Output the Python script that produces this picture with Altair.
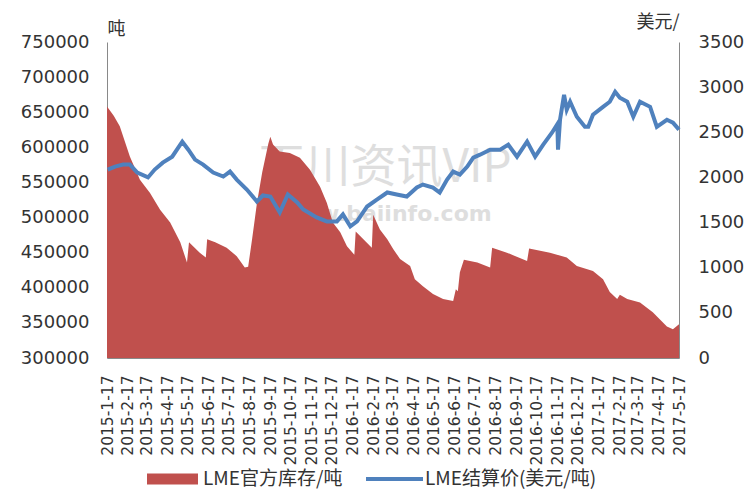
import altair as alt
import pandas as pd

# LME official inventory (tonnes) - left axis
inv_dates = [
    "2015-01-17", "2015-01-27", "2015-02-05", "2015-02-20", "2015-03-07", "2015-03-22",
    "2015-04-06", "2015-04-21", "2015-05-06", "2015-05-16", "2015-05-19", "2015-06-04",
    "2015-06-13", "2015-06-15", "2015-06-27", "2015-07-14", "2015-07-29", "2015-08-10",
    "2015-08-15", "2015-08-21", "2015-08-28", "2015-09-05", "2015-09-14", "2015-09-17",
    "2015-09-21", "2015-10-01", "2015-10-16", "2015-10-31", "2015-11-15", "2015-11-30",
    "2015-12-10", "2015-12-19", "2015-12-30", "2016-01-09", "2016-01-20", "2016-01-22",
    "2016-02-15", "2016-02-17", "2016-02-27", "2016-03-09", "2016-03-18", "2016-03-28",
    "2016-04-12", "2016-04-19", "2016-05-01", "2016-05-16", "2016-05-31", "2016-06-15",
    "2016-06-19", "2016-06-22", "2016-06-25", "2016-07-01", "2016-07-21", "2016-08-09",
    "2016-08-12", "2016-09-03", "2016-10-03", "2016-10-06", "2016-11-06", "2016-12-01",
    "2016-12-16", "2017-01-09", "2017-01-24", "2017-02-03", "2017-02-14", "2017-02-18",
    "2017-03-01", "2017-03-20", "2017-04-08", "2017-04-29", "2017-05-08", "2017-05-17",
]
inv_values = [
    658000, 645000, 630000, 587000, 554000, 535000,
    511000, 493000, 465000, 436000, 465000, 450000,
    443000, 469000, 465000, 457000, 445000, 429000,
    430000, 470000, 520000, 565000, 605000, 615000,
    604000, 594000, 592000, 585000, 568000, 544000,
    521000, 493000, 479000, 459000, 447000, 480000,
    457000, 504000, 483000, 469000, 455000, 441000,
    431000, 412000, 402000, 391000, 384000, 381000,
    398000, 395000, 422000, 440000, 436000, 429000,
    457000, 450000, 438000, 456000, 450000, 443000,
    431000, 424000, 412000, 394000, 384000, 390000,
    384000, 379000, 365000, 345000, 341000, 348000,
]

# LME settlement price (USD/t) - right axis
price_dates = [
    "2015-01-18", "2015-01-29", "2015-02-10", "2015-02-20", "2015-03-03", "2015-03-19",
    "2015-03-29", "2015-04-10", "2015-04-24", "2015-05-09", "2015-05-18", "2015-05-28",
    "2015-06-09", "2015-06-24", "2015-07-09", "2015-07-19", "2015-07-29", "2015-08-13",
    "2015-08-28", "2015-09-06", "2015-09-17", "2015-10-01", "2015-10-13", "2015-10-27",
    "2015-11-05", "2015-11-25", "2015-12-10", "2015-12-25", "2016-01-03", "2016-01-14",
    "2016-01-24", "2016-02-08", "2016-02-23", "2016-03-09", "2016-03-23", "2016-04-07",
    "2016-04-22", "2016-05-01", "2016-05-16", "2016-05-26", "2016-06-06", "2016-06-15",
    "2016-06-25", "2016-07-06", "2016-07-15", "2016-07-25", "2016-08-09", "2016-08-24",
    "2016-09-05", "2016-09-18", "2016-10-03", "2016-10-15", "2016-10-27", "2016-11-09",
    "2016-11-17", "2016-11-18", "2016-11-21", "2016-11-27", "2016-12-01", "2016-12-06",
    "2016-12-16", "2016-12-28", "2017-01-02", "2017-01-09", "2017-01-24", "2017-02-03",
    "2017-02-11", "2017-02-18", "2017-03-01", "2017-03-10", "2017-03-20", "2017-04-04",
    "2017-04-14", "2017-04-29", "2017-05-08", "2017-05-17",
]
price_values = [
    2087, 2120, 2142, 2142, 2054, 2000,
    2087, 2164, 2230, 2396, 2307, 2197,
    2142, 2054, 2010, 2065, 1976, 1866,
    1734, 1800, 1789, 1612, 1811, 1723,
    1645, 1557, 1513, 1513, 1590, 1458,
    1513, 1678, 1756, 1833, 1811, 1789,
    1888, 1921, 1888, 1833, 1976, 2065,
    2032, 2120, 2219, 2252, 2307, 2307,
    2363, 2230, 2396, 2230, 2363, 2495,
    2590, 2307, 2640, 2915, 2750, 2838,
    2672, 2561, 2561, 2694, 2782, 2838,
    2948, 2882, 2838, 2672, 2838, 2782,
    2561, 2639, 2606, 2529,
]

tick_labels = [
    "2015-1-17", "2015-2-17", "2015-3-17", "2015-4-17", "2015-5-17", "2015-6-17",
    "2015-7-17", "2015-8-17", "2015-9-17", "2015-10-17", "2015-11-17", "2015-12-17",
    "2016-1-17", "2016-2-17", "2016-3-17", "2016-4-17", "2016-5-17", "2016-6-17",
    "2016-7-17", "2016-8-17", "2016-9-17", "2016-10-17", "2016-11-17", "2016-12-17",
    "2017-1-17", "2017-2-17", "2017-3-17", "2017-4-17", "2017-5-17",
]
left_ticks = [300000, 350000, 400000, 450000, 500000, 550000, 600000, 650000, 700000, 750000]
right_ticks = [0, 500, 1000, 1500, 2000, 2500, 3000, 3500]

inv_name = "LME官方库存/吨"
price_name = "LME结算价(美元/吨)"
watermark = ["百川资讯VIP", "www.baiinfo.com"]

RED = "#C0504D"
BLUE = "#4F81BD"

inv_df = pd.DataFrame({"date": inv_dates, "value": inv_values, "series": inv_name})
price_df = pd.DataFrame({"date": price_dates, "value": price_values, "series": price_name})


def to_ms(s):
    y, m, d = s.split("-")
    return int(pd.Timestamp(year=int(y), month=int(m), day=int(d), tz="UTC").value // 10**6)


tick_ms = [to_ms(s) for s in tick_labels]

x_scale = alt.Scale(type="utc", domain=[tick_ms[0], tick_ms[-1]], nice=False)
x_axis = alt.Axis(
    values=tick_ms,
    labelExpr="utcFormat(datum.value, '%Y-%-m-%-d')",
    labelAngle=-90,
    labelAlign="right",
    labelBaseline="middle",
    labelPadding=17,
    labelFontSize=15.5,
    labelOverlap=False,
    ticks=False,
    grid=False,
    title=None,
)

font = "DejaVu Sans"
cjk = "Noto Sans CJK SC"
text_color = "#333333"

# watermark (behind the data)
wm1 = alt.Chart(pd.DataFrame({"t": [watermark[0]]})).mark_text(
    font=cjk, fontSize=46, color="#d9d9d9", opacity=0.85, align="center", baseline="middle"
).encode(x=alt.value(278), y=alt.value(126), text="t:N")
wm2 = alt.Chart(pd.DataFrame({"t": [watermark[1]]})).mark_text(
    font=font, fontSize=22, fontWeight="bold", color="#d9d9d9", opacity=0.85,
    align="center", baseline="middle"
).encode(x=alt.value(278), y=alt.value(172), text="t:N")

area = alt.Chart(inv_df).mark_area(clip=True, interpolate="linear", color=RED).encode(
    x=alt.X("date:T", scale=x_scale, axis=x_axis),
    y=alt.Y(
        "value:Q",
        scale=alt.Scale(domain=[300000, 750000], nice=False, zero=False),
        axis=alt.Axis(
            orient="left",
            values=left_ticks,
            format="d",
            grid=False,
            ticks=False,
            labelFontSize=18,
            labelPadding=18,
            title="吨",
            titleAngle=0,
            titleAlign="left",
            titleBaseline="middle",
            titleX=0,
            titleY=-13,
            titleFont=cjk,
            titleFontSize=18,
            titleFontWeight="normal",
        ),
    ),
)

line = alt.Chart(price_df).mark_line(strokeWidth=4, color=BLUE).encode(
    x=alt.X("date:T", scale=x_scale, axis=x_axis),
    y=alt.Y(
        "value:Q",
        scale=alt.Scale(domain=[0, 3500], nice=False),
        axis=alt.Axis(
            orient="right",
            values=right_ticks,
            format="d",
            grid=False,
            ticks=False,
            labelFontSize=18,
            labelPadding=19,
            title="美元/",
            titleAngle=0,
            titleAlign="right",
            titleBaseline="middle",
            titleX=0,
            titleY=-20,
            titleFont=cjk,
            titleFontSize=18,
            titleFontWeight="normal",
        ),
    ),
)

# legend (drawn below the x labels)
leg_y = 437
leg_rect = alt.Chart(pd.DataFrame({"s": [inv_name]})).mark_rect(color=RED).encode(
    x=alt.value(40), x2=alt.value(91), y=alt.value(leg_y - 5.5), y2=alt.value(leg_y + 5.5)
)
leg_text1 = alt.Chart(pd.DataFrame({"s": [inv_name]})).mark_text(
    font=cjk, fontSize=19, color=text_color, align="left", baseline="middle"
).encode(x=alt.value(96), y=alt.value(leg_y), text="s:N")
leg_rule = alt.Chart(pd.DataFrame({"s": [price_name]})).mark_rule(color=BLUE, strokeWidth=4).encode(
    x=alt.value(259), x2=alt.value(316), y=alt.value(leg_y)
)
leg_text2 = alt.Chart(pd.DataFrame({"s": [price_name]})).mark_text(
    font=cjk, fontSize=19, color=text_color, align="left", baseline="middle"
).encode(x=alt.value(318), y=alt.value(leg_y), text="s:N")

chart = (
    alt.layer(wm1, wm2, area, line, leg_rect, leg_text1, leg_rule, leg_text2)
    .resolve_scale(y="independent")
    .properties(
        width=572,
        height=316,
        padding={"left": 99, "top": 34, "right": 65, "bottom": 134},
        autosize=alt.AutoSizeParams(type="none"),
        background="white",
    )
    .configure_view(stroke="transparent")
    .configure_axis(
        domainColor="#898989",
        domainWidth=1,
        labelFont=font,
        labelColor=text_color,
        titleColor=text_color,
    )
)

chart.save("out.html", embed_options={"renderer": "svg", "actions": False})
